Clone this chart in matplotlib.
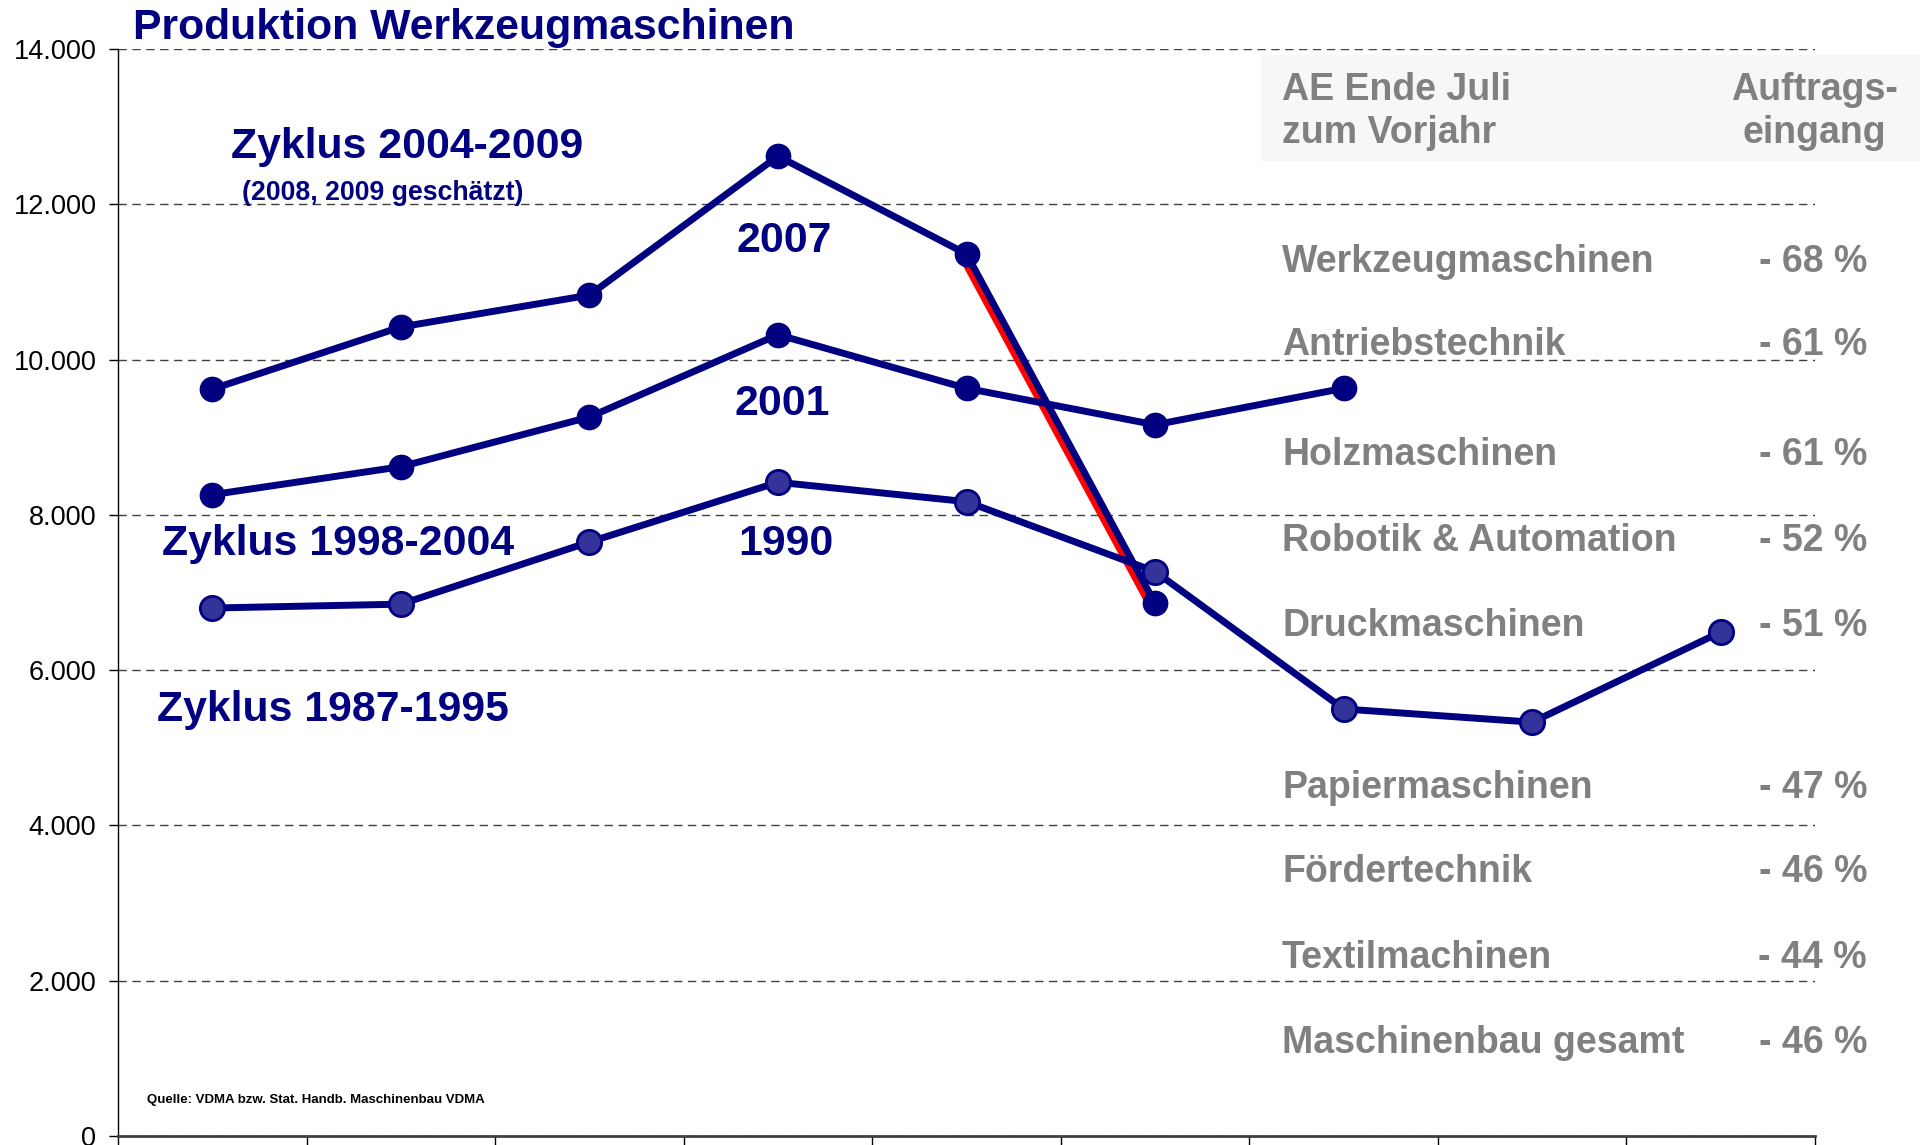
import numpy as np
import matplotlib
matplotlib.use("Agg")
import matplotlib.pyplot as plt
import matplotlib.transforms as mtransforms

plt.rcParams['font.family'] = ['Liberation Sans', 'DejaVu Sans']

# -------------------- data --------------------
# x positions are just the 9 year slots of a cycle
slots = np.arange(9)
cycle_2004_2009 = [9620, 10420, 10830, 12620, 11360, 6860]
cycle_1998_2004 = [8260, 8620, 9260, 10320, 9630, 9160, 9630]
cycle_1987_1995 = [6800, 6850, 7650, 8420, 8170, 7270, 5500, 5330, 6490]

y_ticks = [0, 2000, 4000, 6000, 8000, 10000, 12000, 14000]
y_labels = ['0', '2.000', '4.000', '6.000', '8.000', '10.000', '12.000', '14.000']

branchen = ['Werkzeugmaschinen', 'Antriebstechnik', 'Holzmaschinen',
            'Robotik & Automation', 'Druckmaschinen', 'Papiermaschinen',
            'Fördertechnik', 'Textilmachinen', 'Maschinenbau gesamt']
auftragseingang = ['- 68 %', '- 61 %', '- 61 %', '- 52 %', '- 51 %',
                   '- 47 %', '- 46 %', '- 44 %', '- 46 %']
row_y_px = [262, 345, 455, 541, 626, 788, 872, 958, 1043]

NAVY = '#000080'
GRAY = '#808080'
W, H = 1926, 1145

fig = plt.figure(figsize=(W / 100, H / 100), dpi=100)
ax = fig.add_axes([118 / W, 9 / H, (1815 - 118) / W, (1136 - 49) / H])


def fx(px):
    return px / W


def fy(py):
    return 1 - py / H


# grey header box of the table (behind everything)
fig.patches.append(plt.Rectangle((fx(1261), fy(161)), fx(1920) - fx(1261), fy(55) - fy(161),
                                 transform=fig.transFigure, facecolor='#f7f7f7',
                                 edgecolor='none', zorder=0))
ax.set_facecolor('none')

# -------------------- lines --------------------
lw = 5.0
ms = 17.5
# red "drop" line, drawn slightly left of the last segment of the 2004-2009 cycle
shift = mtransforms.ScaledTranslation(-6 / 100, 0, fig.dpi_scale_trans)
ax.plot(slots[4:6], cycle_2004_2009[4:6], color='red', lw=lw, zorder=2,
        solid_capstyle='butt', transform=ax.transData + shift)

ax.plot(slots[:len(cycle_1987_1995)], cycle_1987_1995, color=NAVY, lw=lw, marker='o',
        ms=ms, mfc='#333399', mec=NAVY, mew=2, zorder=3)
ax.plot(slots[:len(cycle_1998_2004)], cycle_1998_2004, color=NAVY, lw=lw, marker='o',
        ms=ms, mfc=NAVY, mec=NAVY, zorder=4)
ax.plot(slots[:len(cycle_2004_2009)], cycle_2004_2009, color=NAVY, lw=lw, marker='o',
        ms=ms, mfc=NAVY, mec=NAVY, zorder=5)

# -------------------- axes --------------------
ax.set_xlim(-0.5, 8.5)
ax.set_ylim(0, 14000)
ax.set_xticks(np.arange(-0.5, 9.0, 1.0))
ax.set_xticklabels([])
ax.set_yticks(y_ticks)
ax.set_yticklabels(y_labels, fontsize=19.5)
ax.tick_params(axis='x', length=9, width=1, direction='out')
ax.tick_params(axis='y', length=6.5, width=1, direction='out', pad=9)
ax.spines['top'].set_visible(False)
ax.spines['right'].set_visible(False)
ax.spines['left'].set_linewidth(1)
ax.spines['bottom'].set_linewidth(2)
ax.spines['bottom'].set_color('#404040')
ax.yaxis.grid(True, linestyle=(0, (6, 4)), color='#404040', lw=1)
ax.set_axisbelow(True)

# -------------------- texts --------------------
big = 30.8
fig.text(fx(133), fy(28), 'Produktion Werkzeugmaschinen', fontsize=30.8,
         fontweight='bold', color=NAVY, va='center', ha='left')
fig.text(fx(231), fy(147), 'Zyklus 2004-2009', fontsize=big, fontweight='bold',
         color=NAVY, va='center', ha='left')
fig.text(fx(242), fy(193), '(2008, 2009 geschätzt)', fontsize=19.2, fontweight='bold',
         color=NAVY, va='center', ha='left')
fig.text(fx(784), fy(241), '2007', fontsize=big, fontweight='bold', color=NAVY,
         va='center', ha='center')
fig.text(fx(782), fy(404), '2001', fontsize=big, fontweight='bold', color=NAVY,
         va='center', ha='center')
fig.text(fx(786), fy(544), '1990', fontsize=big, fontweight='bold', color=NAVY,
         va='center', ha='center')
fig.text(fx(162), fy(544), 'Zyklus 1998-2004', fontsize=big, fontweight='bold',
         color=NAVY, va='center', ha='left')
fig.text(fx(157), fy(710), 'Zyklus 1987-1995', fontsize=big, fontweight='bold',
         color=NAVY, va='center', ha='left')
fig.text(fx(147), fy(1100), 'Quelle: VDMA bzw. Stat. Handb. Maschinenbau VDMA',
         fontsize=9.5, fontweight='bold', color='black', va='center', ha='left')

# table on the right
tfs = 27
fig.text(fx(1282), fy(90), 'AE Ende Juli', fontsize=tfs, fontweight='bold', color=GRAY,
         va='center', ha='left', zorder=6)
fig.text(fx(1282), fy(133), 'zum Vorjahr', fontsize=tfs, fontweight='bold', color=GRAY,
         va='center', ha='left', zorder=6)
fig.text(fx(1814), fy(90), 'Auftrags-', fontsize=tfs, fontweight='bold', color=GRAY,
         va='center', ha='center', zorder=6)
fig.text(fx(1814), fy(133), 'eingang', fontsize=tfs, fontweight='bold', color=GRAY,
         va='center', ha='center', zorder=6)
for name, val, py in zip(branchen, auftragseingang, row_y_px):
    fig.text(fx(1282), fy(py), name, fontsize=tfs, fontweight='bold', color=GRAY,
             va='center', ha='left', zorder=6)
    fig.text(fx(1867), fy(py), val, fontsize=tfs, fontweight='bold', color=GRAY,
             va='center', ha='right', zorder=6)

fig.savefig('out.png', dpi=100)
